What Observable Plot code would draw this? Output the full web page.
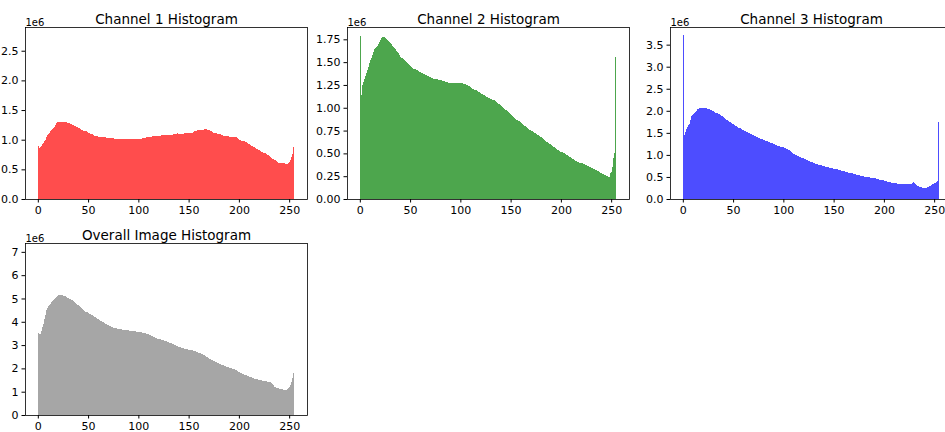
<!DOCTYPE html>
<html>
<head>
<meta charset="utf-8">
<script src="https://cdn.jsdelivr.net/npm/d3@7"></script>
<script src="https://cdn.jsdelivr.net/npm/@observablehq/plot@0.6"></script>
<style>
  html, body { margin: 0; padding: 0; background: #fff; overflow: hidden; }
  #fig { position: relative; width: 945px; height: 432px; overflow: hidden; background: #fff; }
</style>
</head>
<body>
<div id="fig"></div>
<script>
// Histogram counts per pixel value 0..255, in units of 1e6
const channel1 = [
0.90,0.86,0.87,0.89,0.92,0.95,0.98,1.00,1.04,1.08,1.10,1.12,1.14,1.16,1.18,1.20,
1.22,1.25,1.28,1.29,1.30,1.30,1.30,1.30,1.30,1.30,1.29,1.29,1.29,1.28,1.28,1.28,
1.27,1.26,1.25,1.24,1.23,1.23,1.22,1.21,1.20,1.19,1.18,1.17,1.16,1.15,1.15,1.14,
1.14,1.13,1.12,1.11,1.10,1.09,1.09,1.08,1.07,1.07,1.06,1.06,1.05,1.05,1.04,1.04,
1.04,1.04,1.04,1.04,1.03,1.03,1.03,1.03,1.03,1.03,1.03,1.03,1.02,1.02,1.02,1.02,
1.02,1.02,1.01,1.01,1.01,1.01,1.01,1.01,1.01,1.01,1.02,1.02,1.02,1.02,1.02,1.02,
1.02,1.02,1.02,1.02,1.02,1.02,1.02,1.02,1.03,1.03,1.03,1.03,1.04,1.04,1.04,1.04,
1.05,1.05,1.06,1.06,1.06,1.06,1.07,1.07,1.07,1.07,1.07,1.08,1.08,1.08,1.08,1.08,
1.08,1.08,1.08,1.08,1.08,1.08,1.08,1.09,1.09,1.09,1.10,1.11,1.09,1.09,1.09,1.10,
1.10,1.10,1.11,1.11,1.11,1.11,1.12,1.12,1.12,1.12,1.12,1.13,1.14,1.15,1.15,1.16,
1.16,1.16,1.16,1.17,1.17,1.17,1.18,1.18,1.18,1.17,1.17,1.16,1.15,1.14,1.13,1.12,
1.12,1.11,1.11,1.10,1.10,1.09,1.09,1.08,1.08,1.07,1.07,1.07,1.06,1.06,1.06,1.05,
1.05,1.05,1.05,1.05,1.05,1.04,1.04,1.03,1.02,1.00,0.99,0.98,0.98,0.97,0.97,0.96,
0.96,0.94,0.93,0.92,0.91,0.90,0.89,0.88,0.87,0.86,0.85,0.84,0.83,0.82,0.81,0.80,
0.79,0.78,0.78,0.77,0.76,0.75,0.74,0.72,0.70,0.69,0.68,0.67,0.66,0.65,0.64,0.62,
0.61,0.60,0.60,0.60,0.60,0.60,0.60,0.59,0.59,0.59,0.60,0.62,0.65,0.70,0.76,0.87
];
const channel2 = [
1.79,1.14,1.25,1.28,1.32,1.35,1.38,1.41,1.45,1.49,1.52,1.55,1.58,1.61,1.64,1.66,
1.67,1.68,1.70,1.72,1.74,1.76,1.78,1.78,1.77,1.76,1.75,1.74,1.73,1.72,1.71,1.70,
1.68,1.67,1.66,1.64,1.62,1.61,1.60,1.58,1.56,1.55,1.54,1.53,1.52,1.51,1.50,1.49,
1.48,1.47,1.46,1.45,1.44,1.43,1.43,1.42,1.41,1.41,1.40,1.39,1.39,1.38,1.38,1.37,
1.37,1.36,1.36,1.35,1.35,1.34,1.34,1.33,1.33,1.32,1.32,1.31,1.31,1.31,1.30,1.30,
1.30,1.30,1.29,1.29,1.29,1.28,1.28,1.28,1.27,1.27,1.27,1.27,1.27,1.27,1.27,1.27,
1.27,1.27,1.27,1.27,1.27,1.27,1.27,1.26,
1.26,1.26,1.25,1.25,1.24,1.24,1.23,1.22,1.21,1.21,1.20,1.19,1.19,1.18,1.17,1.17,
1.16,1.15,1.15,1.14,1.14,1.13,1.12,1.12,1.11,1.11,1.10,1.10,1.09,1.09,1.08,1.07,
1.06,1.05,1.04,1.04,1.03,1.02,1.01,1.00,0.99,0.98,0.97,0.96,0.95,0.94,0.93,0.92,
0.91,0.90,0.89,0.88,0.87,0.87,0.86,0.85,0.84,0.83,0.82,0.81,0.80,0.80,0.79,0.78,
0.77,0.76,0.76,0.75,0.74,0.73,0.72,0.72,0.71,0.70,0.70,0.69,0.68,0.68,0.67,0.66,
0.65,0.64,0.63,0.62,0.61,0.60,0.60,0.59,0.58,0.57,0.57,0.56,0.55,0.54,0.54,0.53,
0.52,0.52,0.51,0.50,0.50,0.49,0.48,0.48,0.47,0.46,0.46,0.45,0.44,0.44,0.43,0.42,
0.42,0.41,0.41,0.40,0.40,0.39,0.39,0.38,0.38,0.37,0.37,0.36,0.36,0.35,0.35,0.34,
0.34,0.33,0.33,0.32,0.32,0.31,0.31,0.30,0.29,0.28,0.27,0.27,0.26,0.26,0.25,0.25,
0.24,0.24,0.28,0.30,0.35,0.45,0.50,1.56
];
const channel3 = [
3.71,1.46,1.52,1.58,1.64,1.68,1.70,1.80,1.88,1.90,1.92,1.95,1.98,2.00,2.03,2.05,
2.06,2.07,2.07,2.07,2.07,2.07,2.06,2.06,2.05,2.04,2.03,2.02,2.01,2.00,1.99,1.97,
1.96,1.95,1.94,1.93,1.92,1.91,1.89,1.88,1.86,1.84,1.82,1.80,1.78,1.77,1.75,1.74,
1.72,1.70,1.69,1.67,1.66,1.65,1.64,1.62,1.61,1.60,1.58,1.57,1.56,1.55,1.54,1.52,
1.51,1.50,1.49,1.48,1.47,1.46,1.44,1.43,1.42,1.41,1.40,1.39,1.38,1.37,1.36,1.35,
1.34,1.33,1.32,1.32,1.31,1.30,1.29,1.28,1.27,1.26,1.25,1.24,1.23,1.22,1.21,1.21,
1.20,1.19,1.18,1.18,1.17,1.16,1.15,1.14,1.13,1.12,1.10,1.08,1.06,1.04,1.03,1.01,
1.00,0.99,0.98,0.97,0.96,0.95,0.94,0.93,0.92,0.91,0.90,0.89,0.88,0.87,0.86,0.85,
0.84,0.83,0.82,0.81,0.80,0.80,0.79,0.78,0.77,0.77,0.76,0.75,0.75,0.74,0.73,0.73,
0.72,0.72,0.71,0.71,0.70,0.70,0.69,0.69,0.68,0.67,0.67,0.66,0.65,0.65,0.64,0.64,
0.63,0.63,0.62,0.61,0.61,0.60,0.60,0.59,0.58,0.58,0.57,0.57,0.56,0.55,0.55,0.54,
0.54,0.53,0.53,0.52,0.52,0.51,0.51,0.50,0.50,0.49,0.49,0.48,0.48,0.48,0.47,0.47,
0.47,0.46,0.46,0.45,0.44,0.44,0.43,0.42,0.42,0.41,0.41,0.40,0.39,0.39,0.38,0.38,
0.37,0.37,0.37,0.36,0.36,0.36,0.35,0.35,0.35,0.34,0.34,0.34,0.34,0.33,0.33,0.33,
0.33,0.33,0.33,0.34,0.35,0.36,0.38,0.37,0.33,0.31,0.30,0.29,0.28,0.27,0.27,0.26,
0.26,0.26,0.26,0.26,0.27,0.28,0.29,0.30,0.31,0.33,0.35,0.36,0.37,0.38,0.40,1.74
];
const overall = [
3.50,3.46,3.48,3.60,3.78,3.90,4.10,4.30,4.50,4.60,4.68,4.73,4.78,4.83,4.88,4.92,
4.96,5.00,5.05,5.10,5.13,5.14,5.14,5.14,5.13,5.12,5.11,5.09,5.06,5.04,5.01,4.99,
4.97,4.95,4.93,4.90,4.86,4.81,4.78,4.74,4.70,4.66,4.62,4.58,4.55,4.51,4.47,4.44,
4.42,4.40,4.37,4.35,4.32,4.30,4.28,4.25,4.22,4.19,4.16,4.13,4.10,4.07,4.05,4.02,
4.00,3.97,3.95,3.92,3.90,3.88,3.85,3.83,3.81,3.79,3.77,3.75,3.74,3.73,3.72,3.71,
3.70,3.69,3.68,3.67,3.66,3.65,3.65,3.64,3.64,3.63,3.63,3.62,3.62,3.61,3.60,3.60,
3.59,3.59,3.58,3.58,3.57,3.56,3.55,3.54,3.53,3.52,3.51,3.50,3.49,3.48,3.46,3.44,
3.42,3.40,3.38,3.36,3.34,3.32,3.30,3.28,3.26,3.25,3.24,3.23,3.22,3.20,3.19,3.18,
3.17,3.15,3.13,3.11,3.09,3.07,3.05,3.03,3.01,2.99,2.97,2.95,2.93,2.91,2.90,2.88,
2.87,2.86,2.85,2.84,2.83,2.82,2.81,2.80,2.79,2.78,2.77,2.76,2.75,2.73,2.71,2.69,
2.68,2.66,2.64,2.62,2.60,2.58,2.56,2.53,2.50,2.47,2.44,2.41,2.39,2.37,2.35,2.33,
2.31,2.29,2.26,2.24,2.22,2.20,2.18,2.16,2.15,2.13,2.11,2.09,2.07,2.05,2.04,2.02,
2.01,2.00,1.99,1.98,1.96,1.94,1.91,1.88,1.86,1.84,1.82,1.80,1.78,1.76,1.73,1.71,
1.70,1.68,1.67,1.65,1.63,1.62,1.60,1.58,1.56,1.55,1.54,1.53,1.52,1.51,1.51,1.50,
1.48,1.47,1.46,1.45,1.44,1.43,1.43,1.42,1.40,1.37,1.33,1.28,1.22,1.18,1.16,1.15,
1.14,1.13,1.12,1.11,1.10,1.09,1.08,1.07,1.07,1.10,1.15,1.21,1.30,1.43,1.58,1.79
];

const titles = ["Channel 1 Histogram", "Channel 2 Histogram", "Channel 3 Histogram", "Overall Image Histogram"];
const colors = ["#ff4d4d", "#4da64d", "#4d4dff", "#a6a6a6"];
const xTicks = [0, 50, 100, 150, 200, 250];
const yTicks1 = [0, 0.5, 1.0, 1.5, 2.0, 2.5];
const yTicks2 = [0, 0.25, 0.5, 0.75, 1.0, 1.25, 1.5, 1.75];
const yTicks3 = [0, 0.5, 1.0, 1.5, 2.0, 2.5, 3.0, 3.5];
const yTicks4 = [0, 1, 2, 3, 4, 5, 6, 7];
const offsetLabel = "1e6";

const panels = [
  {values: channel1, yDomain: [0, 2.9],   yTicks: yTicks1, fmt: d => d.toFixed(1), left: 24.5, top: 27},
  {values: channel2, yDomain: [0, 1.885], yTicks: yTicks2, fmt: d => d.toFixed(2), left: 347.3, top: 27},
  {values: channel3, yDomain: [0, 3.9],   yTicks: yTicks3, fmt: d => d.toFixed(1), left: 670, top: 27},
  {values: overall,  yDomain: [0, 7.38],  yTicks: yTicks4, fmt: d => d.toFixed(0), left: 24.5, top: 243}
];

const mL = 45, mR = 10, mT = 30, mB = 25, W = 282, H = 172;
const fig = document.getElementById("fig");

panels.forEach((p, k) => {
  const binW = 255 / 256;
  const data = p.values.map((v, i) => ({x1: i * binW, x2: (i + 1) * binW, y: v}));
  const chart = Plot.plot({
    width: mL + W + mR,
    height: mT + H + mB,
    marginLeft: mL, marginRight: mR, marginTop: mT, marginBottom: mB,
    style: {fontFamily: "'DejaVu Sans', sans-serif", fontSize: "11px", color: "#000", background: "transparent", overflow: "visible"},
    x: {domain: [-12.75, 267.75], ticks: xTicks, tickSize: 3.5, tickPadding: 3.5, label: null, tickFormat: d => String(d)},
    y: {domain: p.yDomain, ticks: p.yTicks, tickSize: 3.5, tickPadding: 3.5, label: null, tickFormat: p.fmt},
    marks: [
      Plot.rectY(data, {x1: "x1", x2: "x2", y: "y", fill: colors[k], shapeRendering: "crispEdges"}),
      Plot.frame({stroke: "#000", strokeWidth: 0.8}),
      Plot.text([titles[k]], {frameAnchor: "top", lineAnchor: "bottom", dy: -4, fontSize: 13.5, fill: "#000"}),
      Plot.text([offsetLabel], {frameAnchor: "top-left", textAnchor: "start", lineAnchor: "bottom", dy: -2, fontSize: 10, fill: "#000"})
    ]
  });
  chart.style.position = "absolute";
  chart.style.left = (p.left - mL) + "px";
  chart.style.top = (p.top - mT) + "px";
  fig.appendChild(chart);
});
</script>
</body>
</html>
